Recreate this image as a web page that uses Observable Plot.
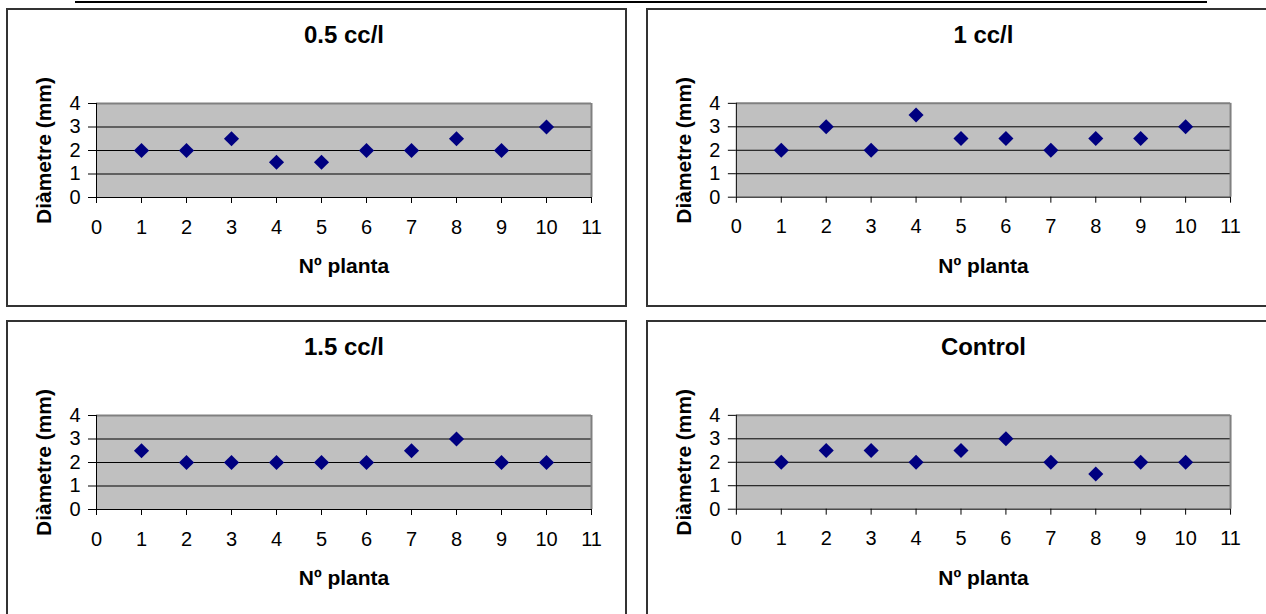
<!DOCTYPE html>
<html><head><meta charset="utf-8">
<script src="https://cdn.jsdelivr.net/npm/d3@7"></script>
<script src="https://cdn.jsdelivr.net/npm/@observablehq/plot@0.6"></script>
<style>
html,body{margin:0;padding:0;background:#fff;overflow:hidden;width:1266px;height:614px;position:relative;}
.panel{position:absolute;}
.border{position:absolute;box-sizing:border-box;border:2px solid #333;pointer-events:none;}
</style></head><body>
<div style="position:absolute;left:75px;top:1px;width:1132px;height:2px;background:#000"></div>
<script>
const plantNumbers = [1, 2, 3, 4, 5, 6, 7, 8, 9, 10];
const titles = ["0.5 cc/l", "1 cc/l", "1.5 cc/l", "Control"];
const diam05 = [2, 2, 2.5, 1.5, 1.5, 2, 2, 2.5, 2, 3];
const diam10 = [2, 3, 2, 3.5, 2.5, 2.5, 2, 2.5, 2.5, 3];
const diam15 = [2.5, 2, 2, 2, 2, 2, 2.5, 3, 2, 2];
const diamControl = [2, 2.5, 2.5, 2, 2.5, 3, 2, 1.5, 2, 2];
const xTicks = [0, 1, 2, 3, 4, 5, 6, 7, 8, 9, 10, 11];
const yTicks = [0, 1, 2, 3, 4];
const gridValues = [1, 2, 3];
const xLabel = "Nº planta";
const yLabel = "Diàmetre (mm)";

const series = [diam05, diam10, diam15, diamControl];
const positions = [{left: 6, top: 8}, {left: 646, top: 8}, {left: 6, top: 320}, {left: 646, top: 320}];
const W = 621, H = 299;

series.forEach((vals, i) => {
  const data = plantNumbers.map((n, j) => ({n, d: vals[j]}));
  const chart = Plot.plot({
    width: W, height: H,
    marginLeft: 90, marginTop: 95, marginRight: 36, marginBottom: 110,
    style: {fontFamily: "'Liberation Sans', Arial, sans-serif", fontSize: "20px", color: "#000", background: "transparent", overflow: "visible"},
    x: {domain: [xTicks[0], xTicks[xTicks.length - 1]], axis: null},
    y: {domain: [yTicks[0], yTicks[yTicks.length - 1]], axis: null},
    marks: [
      Plot.frame({fill: "#c0c0c0"}),
      Plot.ruleY(gridValues, {stroke: "#000", strokeWidth: 1}),
      Plot.ruleY([yTicks[yTicks.length - 1]], {stroke: "#808080", strokeWidth: 2}),
      Plot.ruleX([xTicks[xTicks.length - 1]], {stroke: "#808080", strokeWidth: 2}),
      Plot.ruleX([xTicks[0]], {stroke: "#000", strokeWidth: 1}),
      Plot.ruleY([yTicks[0]], {stroke: "#000", strokeWidth: 1}),
      Plot.axisX({ticks: xTicks, tickSize: 6, tickPadding: 16, label: null, tickFormat: d => String(d)}),
      Plot.axisY({ticks: yTicks, tickSize: 8, tickPadding: 8, label: null, tickFormat: d => String(d)}),
      Plot.dot(data, {x: "n", y: "d", symbol: "diamond2", r: 6.8, fill: "#000080", stroke: "none"}),
      Plot.text([titles[i]], {frameAnchor: "top", lineAnchor: "middle", textAnchor: "middle", dy: -68, fontWeight: "bold", fontSize: 24}),
      Plot.text([xLabel], {frameAnchor: "bottom", lineAnchor: "middle", textAnchor: "middle", dy: 69, fontWeight: "bold", fontSize: 21}),
      Plot.text([yLabel], {frameAnchor: "left", lineAnchor: "middle", textAnchor: "middle", rotate: -90, dx: -52, fontWeight: "bold", fontSize: 21})
    ]
  });
  const wrap = document.createElement("div");
  wrap.className = "panel";
  wrap.style.left = positions[i].left + "px";
  wrap.style.top = positions[i].top + "px";
  wrap.appendChild(chart);
  document.body.appendChild(wrap);
  const b = document.createElement("div");
  b.className = "border";
  b.style.left = positions[i].left + "px";
  b.style.top = positions[i].top + "px";
  b.style.width = (i % 2 === 1 ? W + 10 : W) + "px";
  b.style.height = H + "px";
  document.body.appendChild(b);
});
</script>
</body></html>
